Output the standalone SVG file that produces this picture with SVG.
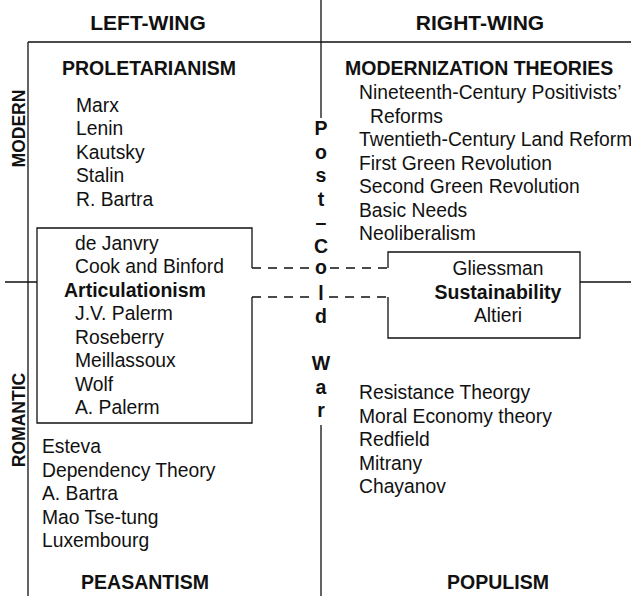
<svg xmlns="http://www.w3.org/2000/svg" width="631" height="596" viewBox="0 0 631 596">
<style>
text{font-family:"Liberation Sans",Arial,Helvetica,sans-serif;fill:#111;}
.r{font-size:19.3px;}
.b{font-size:19.5px;font-weight:bold;}
.h{font-size:21px;font-weight:bold;}
.v{font-size:17.5px;font-weight:bold;}
.pc{font-size:19.5px;font-weight:bold;text-anchor:middle;}
.ln{stroke:#111;stroke-width:1.3;fill:none;}
.ds{stroke:#111;stroke-width:1.6;fill:none;stroke-dasharray:9 7;}
</style>
<rect width="631" height="596" fill="#fff"/>
<g id="frame">
<path class="ln" d="M28 42H631M28 42V596M321 0V118M321 425V596M5 282H37M580 282H631"/>
</g>
<g id="axis-labels">
<text class="h" x="148" y="30" text-anchor="middle">LEFT-WING</text>
<text class="h" x="480" y="30" text-anchor="middle">RIGHT-WING</text>
<text class="v" transform="translate(24.5,128.5) rotate(-90)" text-anchor="middle">MODERN</text>
<text class="v" transform="translate(24.5,420) rotate(-90)" text-anchor="middle">ROMANTIC</text>
</g>
<g id="post-cold-war">
<text class="pc" x="321" y="135">P</text>
<text class="pc" x="321" y="158.5">o</text>
<text class="pc" x="321" y="182">s</text>
<text class="pc" x="321" y="205.5">t</text>
<text class="pc" x="321" y="229">–</text>
<text class="pc" x="321" y="253">C</text>
<text class="pc" x="321" y="274">o</text>
<text class="pc" x="321" y="299.5">l</text>
<text class="pc" x="321" y="323">d</text>
<text class="pc" x="321" y="370">W</text>
<text class="pc" x="321" y="393.5">a</text>
<text class="pc" x="321" y="417">r</text>
</g>
<g id="proletarianism">
<text class="b" x="62" y="75">PROLETARIANISM</text>
<text class="r" x="76" y="111.5">Marx</text>
<text class="r" x="76" y="135">Lenin</text>
<text class="r" x="76" y="158.5">Kautsky</text>
<text class="r" x="76" y="182">Stalin</text>
<text class="r" x="76" y="205.5">R. Bartra</text>
</g>
<g id="modernization">
<text class="b" x="345" y="75">MODERNIZATION THEORIES</text>
<text class="r" x="359" y="99">Nineteenth-Century Positivists’</text>
<text class="r" x="370" y="122.5">Reforms</text>
<text class="r" x="359" y="146">Twentieth-Century Land Reform</text>
<text class="r" x="359" y="169.5">First Green Revolution</text>
<text class="r" x="359" y="193">Second Green Revolution</text>
<text class="r" x="359" y="216.5">Basic Needs</text>
<text class="r" x="359" y="240">Neoliberalism</text>
</g>
<g id="articulationism">
<path class="ln" d="M252 268V228H37V423H252V297"/>
<text class="r" x="75" y="249.5">de Janvry</text>
<text class="r" x="75" y="273">Cook and Binford</text>
<text class="b" x="64" y="296.5">Articulationism</text>
<text class="r" x="75" y="320">J.V. Palerm</text>
<text class="r" x="75" y="343.5">Roseberry</text>
<text class="r" x="75" y="367">Meillassoux</text>
<text class="r" x="75" y="390.5">Wolf</text>
<text class="r" x="75" y="414">A. Palerm</text>
</g>
<g id="sustainability">
<path class="ln" d="M388 268V252H580V338H388V297"/>
<text class="r" x="498" y="275" text-anchor="middle">Gliessman</text>
<text class="b" x="498" y="298.5" text-anchor="middle">Sustainability</text>
<text class="r" x="498" y="322" text-anchor="middle">Altieri</text>
</g>
<g id="populism">
<text class="r" x="359" y="399">Resistance Theorgy</text>
<text class="r" x="359" y="422.5">Moral Economy theory</text>
<text class="r" x="359" y="446">Redfield</text>
<text class="r" x="359" y="469.5">Mitrany</text>
<text class="r" x="359" y="493">Chayanov</text>
<text class="b" x="498" y="589" text-anchor="middle">POPULISM</text>
</g>
<g id="peasantism">
<text class="r" x="42" y="453">Esteva</text>
<text class="r" x="42" y="476.5">Dependency Theory</text>
<text class="r" x="42" y="500">A. Bartra</text>
<text class="r" x="42" y="523.5">Mao Tse-tung</text>
<text class="r" x="42" y="547">Luxembourg</text>
<text class="b" x="145" y="589" text-anchor="middle">PEASANTISM</text>
</g>
<g id="connectors">
<path class="ds" d="M252 268H312M330 268H388"/>
<path class="ds" d="M252 297H313M329 297H388"/>
</g>
</svg>
